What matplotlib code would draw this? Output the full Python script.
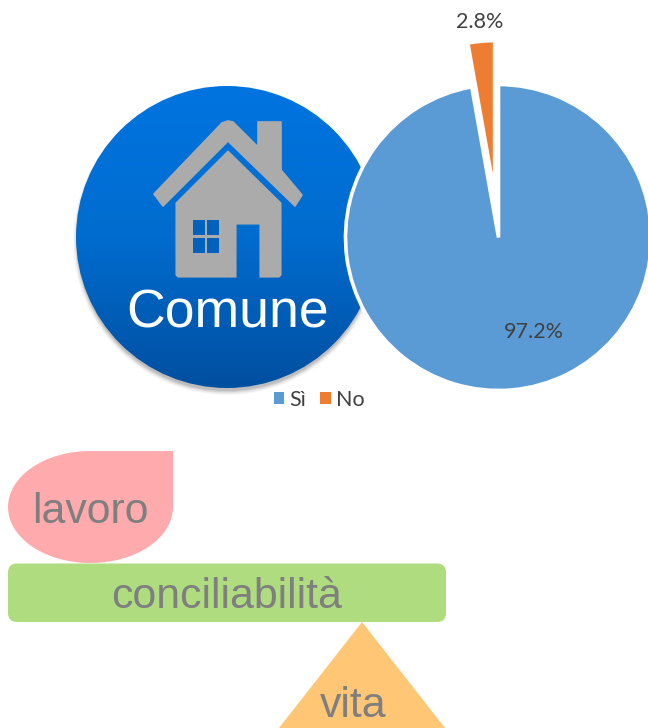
import numpy as np
import matplotlib
matplotlib.use('Agg')
import matplotlib.pyplot as plt
from matplotlib.patches import Circle, Ellipse, Rectangle, Polygon, FancyBboxPatch, Patch
from matplotlib.colors import LinearSegmentedColormap

# pie data
pie_labels = ['Sì', 'No']
pie_values = [97.2, 2.8]
pie_colors = ['#5B9BD5', '#ED7D31']

# shape labels
circle_label = 'Comune'
work_label = 'lavoro'
balance_label = 'conciliabilità'
life_label = 'vita'

GRAY = '#7F7F7F'
ICON = '#ABABAB'
WINDOW = '#0062BC'

fig = plt.figure(figsize=(6.48, 7.28), dpi=100)
ax = fig.add_axes([0, 0, 1, 1])

# soft shadow under the circle
for r, a in zip([154, 153, 152, 151, 150], [0.03, 0.04, 0.05, 0.07, 0.09]):
    ax.add_patch(Circle((227, 241), r, fc='black', ec='none', alpha=a, zorder=1))

# blue circle with vertical gradient
cmap = LinearSegmentedColormap.from_list('blue', ['#0074E0', '#006CCF', '#004FA0'])
grad = np.linspace(0, 1, 256).reshape(-1, 1)
im = ax.imshow(grad, cmap=cmap, extent=(76, 378, 388, 86), aspect='auto', zorder=2)
clip = Circle((227, 237), 151, transform=ax.transData, fc='none', ec='none')
ax.add_patch(clip)
im.set_clip_path(clip)

# house icon
roof = [(228, 121), (233, 122), (258, 147), (258, 122), (281, 122), (281, 170), (302, 195),
        (295, 206), (228, 141), (163, 206), (154, 194), (222, 123)]
body = [(228, 151), (281, 203), (281, 275), (279, 277), (260, 277), (260, 224), (236, 224),
        (236, 277), (178, 277), (176, 275), (176, 203)]
ax.add_patch(Polygon(roof, closed=True, fc=ICON, ec=ICON, lw=1.2, joinstyle='round', zorder=3))
ax.add_patch(Polygon(body, closed=True, fc=ICON, ec=ICON, lw=0.8, joinstyle='round', zorder=3))
for x, y in [(193, 220), (207, 220), (193, 238), (207, 238)]:
    ax.add_patch(Rectangle((x, y), 12, 15, fc=WINDOW, ec='none', zorder=4))
ax.text(228, 327, circle_label, color='white', fontsize=38.5, family='Liberation Sans',
        ha='center', va='baseline', zorder=5)

# pie on top of the circle, y axis is flipped so this runs clockwise from the top
wedges, _ = ax.pie(pie_values, colors=pie_colors, explode=[0, 44], center=(498.5, 237.5),
                   radius=153, startangle=-90, counterclock=True,
                   wedgeprops={'edgecolor': 'white', 'linewidth': 2.6, 'zorder': 6})
ax.text(534, 332, f'{pie_values[0]:.1f}%', color='#404040', fontsize=15.5, family='Lato',
        ha='center', va='center', zorder=7)
ax.text(480, 22, f'{pie_values[1]:.1f}%', color='#404040', fontsize=15.5, family='Lato',
        ha='center', va='center', zorder=7)

handles = [Patch(fc=c, ec='none', label=l) for c, l in zip(pie_colors, pie_labels)]
ax.legend(handles=handles, loc='center', bbox_to_anchor=(319 / 648, 1 - 400 / 728), ncol=2, frameon=False,
          prop={'family': 'Lato', 'size': 15.5}, labelcolor='#404040', handlelength=0.5,
          handleheight=0.5, handletextpad=0.22, columnspacing=0.67)

# bottom shapes
PINK = '#FFABAD'
ax.add_patch(Ellipse((90.5, 507), 165, 112, fc=PINK, ec='none', zorder=2))
ax.add_patch(Rectangle((90.5, 451), 82.5, 56, fc=PINK, ec='none', zorder=2))
ax.text(90.5, 523, work_label, color=GRAY, fontsize=30.8, family='Liberation Sans',
        ha='center', va='baseline', zorder=5)

ax.add_patch(Polygon([(362, 622), (279, 728), (445, 728)], closed=True, fc='#FFC676', ec='none', zorder=2))
ax.add_patch(FancyBboxPatch((8, 563.5), 438, 58.5, boxstyle='round,pad=0,rounding_size=9',
                            fc='#AFDC7E', ec='none', zorder=3))
ax.text(227, 608, balance_label, color=GRAY, fontsize=30.8, family='Liberation Sans',
        ha='center', va='baseline', zorder=5)
ax.text(353.5, 717, life_label, color=GRAY, fontsize=30.8, family='Liberation Sans',
        ha='center', va='baseline', zorder=5)

ax.set_xlim(0, 648)
ax.set_ylim(728, 0)
ax.set_aspect('auto')
ax.axis('off')

fig.savefig('out.png', dpi=100)
